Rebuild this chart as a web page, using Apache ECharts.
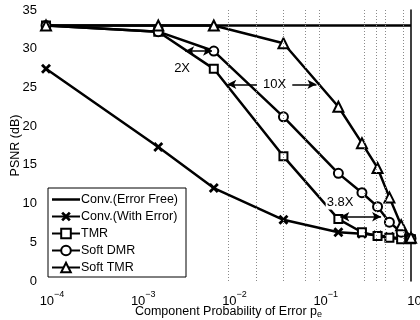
<!DOCTYPE html>
<html><head><meta charset="utf-8">
<script src="https://cdn.jsdelivr.net/npm/echarts@6/dist/echarts.min.js"></script>
<style>html,body{margin:0;padding:0;background:#fff}#c{width:420px;height:320px}</style>
</head><body><div id="c"></div>
<script>
// Component probability of error (x)
const xs = [1e-4, 1.7e-3, 6.9e-3, 0.04, 0.16, 0.29, 0.43, 0.58, 0.78, 1];
const errorFreeX = [1e-4, 1];
const errorFree = [33, 33];
const withError = [27.4, 17.3, 12.0, 7.9, 6.3, 6.1, 5.9, 5.7, 5.5, 5.4];
const tmr = [33, 32.2, 27.4, 16.1, 8.0, 6.3, 5.8, 5.6, 5.4, 5.4];
const softDmr = [33, 32.2, 29.7, 21.2, 13.9, 11.4, 9.6, 7.6, 6.3, 5.5];
const softTmr = [33, 33, 33, 30.7, 22.5, 17.8, 14.6, 10.8, 7.2, 5.6];
const seriesNames = ['Conv.(Error Free)', 'Conv.(With Error)', 'TMR', 'Soft DMR', 'Soft TMR'];
const yTicks = [0, 5, 10, 15, 20, 25, 30, 35];
// dotted vertical grid lines (as seen)
const gridX = [1e-4, 3.8e-4, 6.2e-4, 7.5e-4, 1e-3, 1.2e-3, 6.7e-3, 8.1e-3, 1e-2, 1.07e-2, 2.3e-2, 4.4e-2, 7.4e-2, 9.5e-2, 0.31, 0.42, 0.52, 0.82];
// annotations in data coordinates
const ann2X = {text: '2X', at: [3.1e-3, 27.5], from: [3.35e-3, 29.7], to: [6.6e-3, 29.7]};
const ann10X = {text: '10X', at: [0.032, 25.4], left: [[0.0205, 25.4], [0.0097, 25.4]], right: [[0.05, 25.4], [0.092, 25.4]]};
const ann38X = {text: '3.8X', at: [0.167, 10.2], from: [0.168, 8.3], to: [0.47, 8.3]};

const FONT = "'Liberation Sans', Arial, sans-serif";
const xPath = 'path://M0,2 L2,0 L5,3 L8,0 L10,2 L7,5 L10,8 L8,10 L5,7 L2,10 L0,8 L3,5 Z';
const pair = (xa, ya) => xa.map((x, i) => [x, ya[i]]);
const black = '#000';
function lineSeries(name, data, symbol, size) {
  return {
    name, type: 'line', data, symbol, symbolSize: size, showSymbol: symbol !== 'none',
    lineStyle: {color: black, width: 2.5},
    itemStyle: symbol === xPath ? {color: black} : {color: '#fff', borderColor: black, borderWidth: 2},
    emphasis: {disabled: true}, animation: false, z: 3
  };
}

const chart = echarts.init(document.getElementById('c'), null, {renderer: 'canvas'});
const legendData = seriesNames.map((n, i) => i === 0
  ? {name: n, icon: 'path://M0,0H28V2.5H0Z', itemStyle: {color: black, borderWidth: 0}}
  : {name: n});
const option = {
  animation: false,
  textStyle: {fontFamily: FONT},
  grid: {left: 46, right: 9, top: 10, bottom: 39, containLabel: false, outerBoundsMode: 'none'},
  xAxis: {
    type: 'log', logBase: 10, min: 1e-4, max: 1,
    axisLine: {show: false}, axisTick: {show: false}, splitLine: {show: false},
    axisLabel: {
      margin: 9, color: black, padding: [0, 0, 0, 12],
      formatter: v => '{b|10}{s|' + String(Math.round(Math.log10(v))).replace('-', '\u2212') + '}',
      rich: {
        b: {fontSize: 13, fontFamily: FONT, color: black, verticalAlign: 'bottom', lineHeight: 18},
        s: {fontSize: 9, fontFamily: FONT, color: black, verticalAlign: 'top', lineHeight: 10}
      }
    },
    name: 'Component Probability of Error p{sub|e}', nameLocation: 'middle', nameGap: 23,
    nameMoveOverlap: false,
    nameTextStyle: {fontSize: 12.5, color: black, fontFamily: FONT, verticalAlign: 'top',
      rich: {sub: {fontSize: 9, fontFamily: FONT, color: black, verticalAlign: 'bottom', padding: [6, 0, 0, 0]}}}
  },
  yAxis: [{
    type: 'value', min: 0, max: 35, interval: 5,
    axisLine: {show: false}, axisTick: {show: false}, splitLine: {show: false},
    axisLabel: {color: black, fontSize: 13, margin: 9, fontFamily: FONT},
    name: 'PSNR (dB)', nameLocation: 'middle', nameGap: 24, nameMoveOverlap: false,
    nameTextStyle: {fontSize: 12.5, color: black, fontFamily: FONT}
  }, {
    type: 'value', min: 0, max: 35, interval: 5, position: 'right',
    axisLine: {show: true, lineStyle: {color: black, width: 1.5}},
    axisTick: {show: false}, axisLabel: {show: false}, splitLine: {show: false}
  }],
  legend: {
    data: legendData, orient: 'vertical', left: 48, top: 188,
    backgroundColor: '#fff', borderColor: black, borderWidth: 1, borderRadius: 0,
    padding: [5, 8, 3, 3], itemGap: 4, itemWidth: 28, itemHeight: 12,
    textStyle: {fontSize: 12.5, color: black, fontFamily: FONT, padding: [0, 0, 0, -4]}
  },
  series: [
    {
      name: 'grid', type: 'line', data: [], silent: true, z: 1,
      markLine: {
        silent: true, symbol: 'none', label: {show: false}, animation: false,
        lineStyle: {color: '#8a8a8a', width: 1, type: [1, 2]},
        data: gridX.map(v => ({xAxis: v}))
      }
    },
    lineSeries(seriesNames[0], pair(errorFreeX, errorFree), 'none', 0),
    lineSeries(seriesNames[1], pair(xs, withError), xPath, 10),
    lineSeries(seriesNames[2], pair(xs, tmr), 'rect', 8),
    lineSeries(seriesNames[3], pair(xs, softDmr), 'circle', 9),
    lineSeries(seriesNames[4], pair(xs, softTmr), 'triangle', 10),
    {
      name: 'annot', type: 'line', data: [], silent: true, z: 5,
      markLine: {
        silent: true, animation: false, label: {show: false},
        symbolSize: [7, 9],
        lineStyle: {color: black, width: 1.5, type: 'solid'},
        data: [
          [{coord: ann2X.from, symbol: 'arrow'}, {coord: ann2X.to, symbol: 'arrow'}],
          [{coord: ann10X.left[0], symbol: 'none'}, {coord: ann10X.left[1], symbol: 'arrow'}],
          [{coord: ann10X.right[0], symbol: 'none'}, {coord: ann10X.right[1], symbol: 'arrow'}],
          [{coord: ann38X.from, symbol: 'arrow'}, {coord: ann38X.to, symbol: 'arrow'}]
        ]
      },
      markPoint: {
        silent: true, animation: false, symbol: 'circle', symbolSize: 1,
        itemStyle: {color: 'rgba(0,0,0,0)'},
        label: {show: true, position: 'inside', color: black, fontSize: 13, fontFamily: FONT},
        data: [
          {coord: ann2X.at, value: ann2X.text, label: {formatter: ann2X.text}},
          {coord: ann10X.at, value: ann10X.text, label: {formatter: ann10X.text}},
          {coord: ann38X.at, value: ann38X.text, label: {formatter: ann38X.text, backgroundColor: '#fff', padding: [1, 1]}}
        ]
      }
    }
  ]
};
chart.setOption(option);
</script></body></html>
